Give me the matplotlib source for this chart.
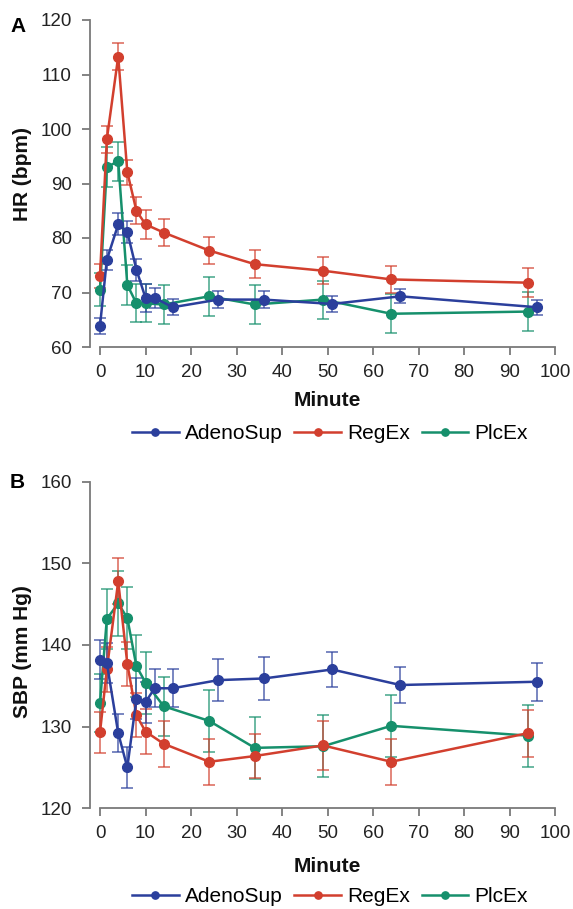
import matplotlib
matplotlib.use("Agg")
import matplotlib.pyplot as plt

plt.rcParams['font.family'] = ['Liberation Sans', 'DejaVu Sans']

# time points (minutes)
blue_t = [0, 1.5, 4, 6, 8, 10, 12, 16, 26, 36, 51, 66, 96]
ex_t = [0, 1.5, 4, 6, 8, 10, 14, 24, 34, 49, 64, 94]

# panel A - heart rate
hr_blue = [63.9, 76.0, 82.5, 81.1, 74.2, 69.0, 69.0, 67.3, 68.7, 68.7, 67.9, 69.3, 67.3]
hr_blue_err = [1.5, 1.8, 2.0, 2.0, 2.0, 2.6, 1.9, 1.5, 1.6, 1.6, 1.5, 1.3, 1.4]
hr_red = [73.1, 98.1, 113.3, 92.1, 85.0, 82.5, 81.0, 77.7, 75.2, 74.0, 72.4, 71.8]
hr_red_err = [2.2, 2.5, 2.5, 2.3, 2.5, 2.6, 2.5, 2.5, 2.6, 2.5, 2.5, 2.7]
hr_green = [70.5, 93.0, 94.1, 71.4, 68.0, 68.0, 67.8, 69.3, 67.8, 68.7, 66.1, 66.5]
hr_green_err = [3.0, 3.7, 3.6, 3.7, 3.5, 3.5, 3.5, 3.6, 3.5, 3.5, 3.6, 3.6]

# panel B - systolic blood pressure
sbp_blue = [138.2, 137.8, 129.2, 125.0, 133.4, 133.0, 134.7, 134.7, 135.7, 135.9, 137.0, 135.1, 135.5]
sbp_blue_err = [2.4, 2.4, 2.3, 2.5, 2.5, 2.5, 2.3, 2.3, 2.6, 2.6, 2.2, 2.2, 2.3]
sbp_red = [129.3, 137.0, 147.8, 137.7, 131.4, 129.4, 127.9, 125.7, 126.4, 127.7, 125.7, 129.2]
sbp_red_err = [2.5, 2.7, 2.8, 2.7, 2.7, 2.8, 2.8, 2.8, 2.7, 3.0, 2.8, 2.9]
sbp_green = [132.9, 143.2, 145.1, 143.3, 137.4, 135.4, 132.5, 130.7, 127.4, 127.6, 130.1, 128.9]
sbp_green_err = [3.5, 3.7, 4.0, 3.8, 3.8, 3.8, 3.6, 3.8, 3.8, 3.8, 3.8, 3.8]

names = ['AdenoSup', 'RegEx', 'PlcEx']
colors = {'AdenoSup': '#2b3f9c', 'RegEx': '#d23f2e', 'PlcEx': '#16906c'}

fig = plt.figure(figsize=(5.73, 9.09), dpi=100)
W, H = 573, 909


def panel(rect, ylim, yticks, ylabel, series, letter, letter_y, legend_y, xlab_y, ylab_y):
    ax = fig.add_axes(rect)
    # draw order: green, red, blue on top
    for name in ['PlcEx', 'RegEx', 'AdenoSup']:
        t, y, e = series[name]
        c = colors[name]
        ax.errorbar(t, y, yerr=e, fmt='none', ecolor=c, elinewidth=1.1,
                    capsize=4.5, capthick=1.1, alpha=0.8, zorder=2)
        ax.plot(t, y, color=c, lw=1.8, marker='o', ms=7, label=name, zorder=3)
    ax.set_xlim(-2.2, 101)
    ax.set_ylim(*ylim)
    ax.set_xticks(range(0, 101, 10))
    ax.set_yticks(yticks)
    for s in ['top', 'right']:
        ax.spines[s].set_visible(False)
    ax.spines['bottom'].set_bounds(0, 100)
    for s in ['left', 'bottom']:
        ax.spines[s].set_color('#7a7a7a')
        ax.spines[s].set_linewidth(1.3)
    ax.tick_params(axis='both', colors='#7a7a7a', width=1.3, labelcolor='#222222',
                   labelsize=13.5)
    ax.tick_params(axis='y', length=6, pad=7)
    ax.tick_params(axis='x', length=6, pad=6)
    ax.set_ylabel(ylabel, fontsize=15, fontweight='bold', color='#111111')
    ax.yaxis.set_label_coords(-0.1235, ylab_y)
    ax.set_xlabel('Minute', fontsize=15, fontweight='bold', color='#111111')
    ax.xaxis.set_label_coords(0.506, xlab_y)
    fig.text(10 / W, 1 - letter_y / H, letter, fontsize=15, fontweight='bold',
             va='center', ha='left')
    handles, labels = ax.get_legend_handles_labels()
    order = [labels.index(n) for n in names]
    fig.legend([handles[i] for i in order], [labels[i] for i in order],
               loc='center', bbox_to_anchor=(330 / W, 1 - legend_y / H), ncol=3,
               frameon=False, fontsize=15, handlelength=2.25, handletextpad=0.3,
               columnspacing=0.55, markerscale=0.75, borderaxespad=0)
    return ax


panel([90 / W, 1 - 347 / H, 469.6 / W, 327 / H], (60, 120), range(60, 121, 10),
      'HR (bpm)',
      {'AdenoSup': (blue_t, hr_blue, hr_blue_err),
       'RegEx': (ex_t, hr_red, hr_red_err),
       'PlcEx': (ex_t, hr_green, hr_green_err)},
      'A', 26, 434, -0.135, 0.53)

panel([90 / W, 1 - 808.3 / H, 469.6 / W, 326.6 / H], (120, 160), range(120, 161, 10),
      'SBP (mm Hg)',
      {'AdenoSup': (blue_t, sbp_blue, sbp_blue_err),
       'RegEx': (ex_t, sbp_red, sbp_red_err),
       'PlcEx': (ex_t, sbp_green, sbp_green_err)},
      'B', 482, 897, -0.15, 0.48)

fig.savefig('out.png', dpi=100)
